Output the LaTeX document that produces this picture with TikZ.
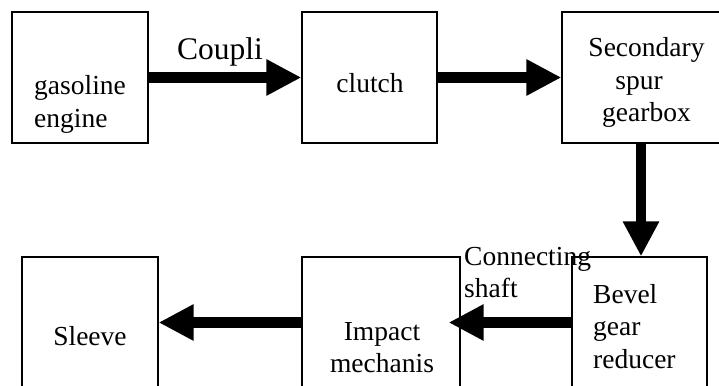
\documentclass[tikz,border=0pt]{standalone}
\usepackage{fontspec}
\setmainfont{Liberation Serif}
\usetikzlibrary{arrows.meta}
% stacked lines of a label, baseline on the first line
\newcommand\txtrows[2]{\begin{tabular}[t]{@{}#1@{}}#2\end{tabular}}
\begin{document}
\begin{tikzpicture}[x=1pt,y=-1pt,
  box/.style={draw, line width=1.2pt, inner sep=0pt},
  lbl/.style={inner sep=0pt, font=\fontsize{27.5}{32.5}\selectfont},
  flow/.style={line width=10.5pt, -{Triangle[length=35pt,width=34pt]}}]
\clip (0,0) rectangle (719,385);
\fill[white] (0,0) rectangle (719,385);

% upper row
\node[box, minimum width=136pt, minimum height=131pt] (engine) at (80,77.5) {};
\node[box, minimum width=135pt, minimum height=131pt] (clutch) at (369.5,77.5) {};
\node[box, minimum width=168pt, minimum height=131pt] (spur) at (646,77.5) {};

% lower row
\node[box, minimum width=136pt, minimum height=143pt] (sleeve) at (90,328.5) {};
\node[box, minimum width=158pt, minimum height=143pt] (impact) at (381,328.5) {};
\node[box, minimum width=135pt, minimum height=143pt] (bevel) at (639.5,328.5) {};

% labels
\node[lbl, anchor=base west] (tengine) at (34,95) {\txtrows{l}{gasoline\\engine}};
\node[lbl, anchor=base] (tclutch) at (370,93) {clutch};
\node[lbl, anchor=base] (tspur) at (646.5,57) {\txtrows{c}{Secondary\\spur\hspace*{15pt}\\gearbox}};
\node[lbl, anchor=base west] (tbevel) at (593,303) {\txtrows{l}{Bevel\\gear\\reducer}};
\node[lbl, anchor=base] (timpact) at (382,340) {\txtrows{c}{Impact\\mechanis}};
\node[lbl, anchor=base] (tsleeve) at (90,345) {Sleeve};
\node[inner sep=0pt, font=\fontsize{31.5}{36}\selectfont, anchor=base west] (tcoupling) at (177,60) {Coupli};
\node[lbl, anchor=base west] (tshaft) at (464,265) {\txtrows{l}{Connecting\\shaft}};

% power flow
\draw[flow] (engine.east) -- (clutch.west);
\draw[flow] (clutch.east) -- (spur.west);
\draw[flow] ([xshift=-5pt]spur.south) -- ([xshift=1.5pt]bevel.north);
\coordinate (shaftend) at ([xshift=-12pt,yshift=6pt]impact.east);
\draw[flow] ([yshift=6pt]bevel.west) -- (shaftend);
\draw[flow] ([yshift=6pt]impact.west) -- ([yshift=6pt]sleeve.east);
\end{tikzpicture}
\end{document}
